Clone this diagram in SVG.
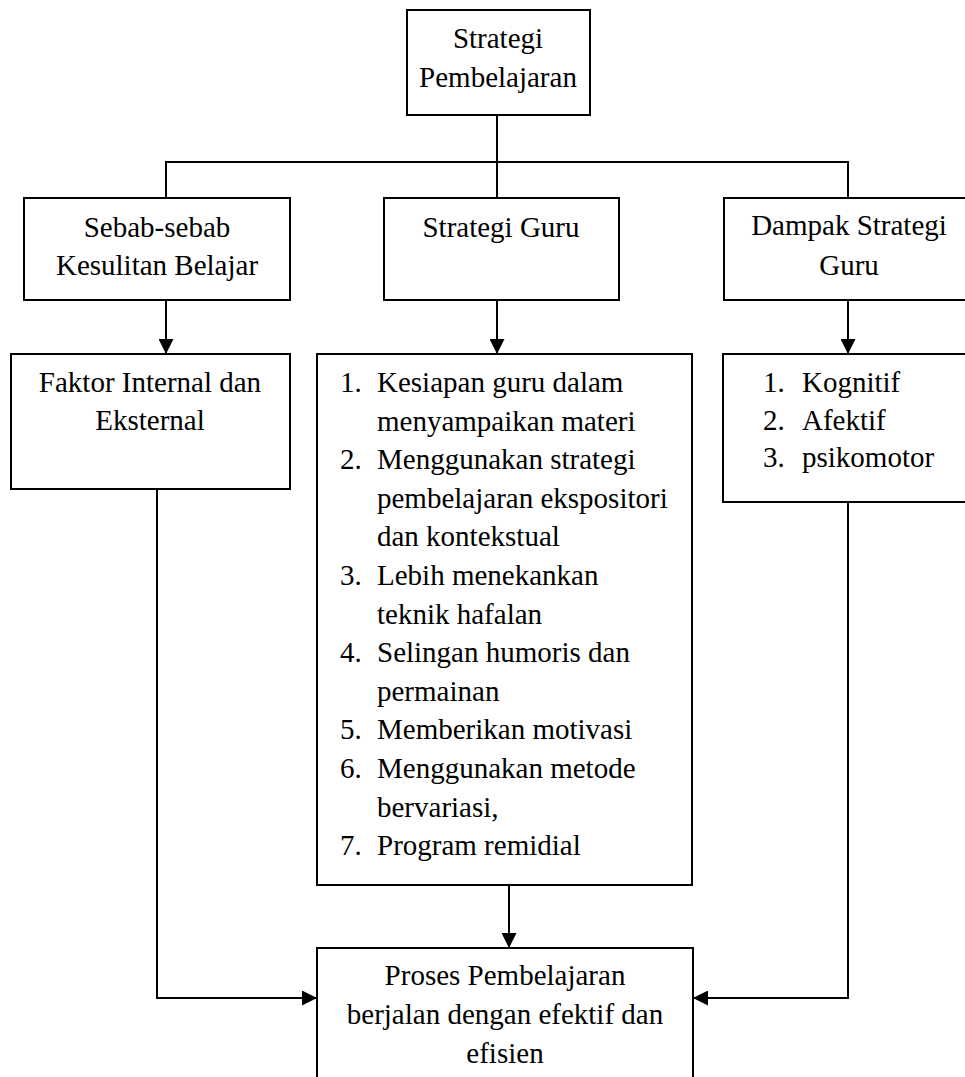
<svg xmlns="http://www.w3.org/2000/svg" width="965" height="1077" viewBox="0 0 965 1077">
<style>
.box{fill:#fff;stroke:#000;stroke-width:2}
.t{font-family:"Liberation Serif","Times New Roman",serif;font-size:29px;fill:#000}
.c{text-anchor:middle}
.ln{fill:none;stroke:#000;stroke-width:2}
</style>
<defs>
<marker id="ah" markerUnits="userSpaceOnUse" markerWidth="15" markerHeight="15" refX="15" refY="7.5" orient="auto">
<path d="M0,0 L15,7.5 L0,15 Z" fill="#000"/>
</marker>
</defs>
<rect width="965" height="1077" fill="#fff"/>
<g id="connectors">
<path class="ln" d="M497,115 V198"/>
<path class="ln" d="M166,198 V162 H848 V198"/>
<path class="ln" d="M166,300 V354" marker-end="url(#ah)"/>
<path class="ln" d="M497,300 V354" marker-end="url(#ah)"/>
<path class="ln" d="M848,300 V354" marker-end="url(#ah)"/>
<path class="ln" d="M509,886 V948" marker-end="url(#ah)"/>
<path class="ln" d="M157,490 V998 H317" marker-end="url(#ah)"/>
<path class="ln" d="M848,502 V998 H693" marker-end="url(#ah)"/>
</g>
<g id="node-strategi-pembelajaran">
<rect class="box" x="407" y="10" width="183" height="105"/>
<text class="t c" x="498" y="48">Strategi</text>
<text class="t c" x="498" y="87">Pembelajaran</text>
</g>
<g id="node-sebab">
<rect class="box" x="24" y="198" width="266" height="102"/>
<text class="t c" x="157" y="237">Sebab-sebab</text>
<text class="t c" x="157" y="275">Kesulitan Belajar</text>
</g>
<g id="node-strategi-guru">
<rect class="box" x="384" y="198" width="235" height="102"/>
<text class="t c" x="501" y="237">Strategi Guru</text>
</g>
<g id="node-dampak">
<rect class="box" x="724" y="198" width="250" height="102"/>
<text class="t c" x="849" y="235">Dampak Strategi</text>
<text class="t c" x="849" y="275">Guru</text>
</g>
<g id="node-faktor">
<rect class="box" x="11" y="354" width="279" height="135"/>
<text class="t c" x="150" y="392">Faktor Internal dan</text>
<text class="t c" x="150" y="430">Eksternal</text>
</g>
<g id="node-list-strategi">
<rect class="box" x="317" y="354" width="375" height="531"/>
<text class="t" x="340" y="392">1.</text><text class="t" x="377" y="392">Kesiapan guru dalam</text>
<text class="t" x="377" y="430.6">menyampaikan materi</text>
<text class="t" x="340" y="469.2">2.</text><text class="t" x="377" y="469.2">Menggunakan strategi</text>
<text class="t" x="377" y="507.8">pembelajaran ekspositori</text>
<text class="t" x="377" y="546.4">dan kontekstual</text>
<text class="t" x="340" y="585">3.</text><text class="t" x="377" y="585">Lebih menekankan</text>
<text class="t" x="377" y="623.6">teknik hafalan</text>
<text class="t" x="340" y="662.2">4.</text><text class="t" x="377" y="662.2">Selingan humoris dan</text>
<text class="t" x="377" y="700.8">permainan</text>
<text class="t" x="340" y="739.4">5.</text><text class="t" x="377" y="739.4">Memberikan motivasi</text>
<text class="t" x="340" y="778">6.</text><text class="t" x="377" y="778">Menggunakan metode</text>
<text class="t" x="377" y="816.6">bervariasi,</text>
<text class="t" x="340" y="855.2">7.</text><text class="t" x="377" y="855.2">Program remidial</text>
</g>
<g id="node-dampak-list">
<rect class="box" x="723" y="354" width="252" height="148"/>
<text class="t" x="763" y="392">1.</text><text class="t" x="802" y="392">Kognitif</text>
<text class="t" x="763" y="430">2.</text><text class="t" x="802" y="430">Afektif</text>
<text class="t" x="763" y="467">3.</text><text class="t" x="802" y="467">psikomotor</text>
</g>
<g id="node-proses">
<rect class="box" x="317" y="948" width="376" height="150"/>
<text class="t c" x="505" y="985">Proses Pembelajaran</text>
<text class="t c" x="505" y="1024">berjalan dengan efektif dan</text>
<text class="t c" x="505" y="1063">efisien</text>
</g>
</svg>
